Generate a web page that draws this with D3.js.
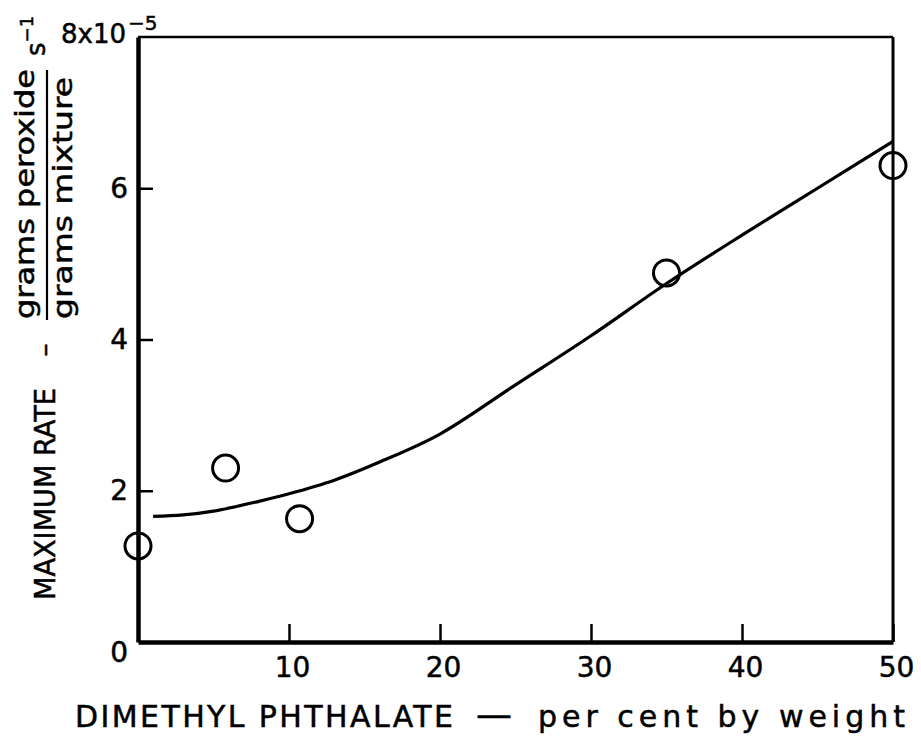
<!DOCTYPE html>
<html>
<head>
<meta charset="utf-8">
<script src="https://cdn.jsdelivr.net/npm/d3@7.9.0/dist/d3.min.js"></script>
<style>
  body { margin: 0; background: #fff; }
  svg { display: block; }
  text { font-family: "DejaVu Sans", sans-serif; fill: #000; stroke: #000; stroke-width: 0.5px; }
</style>
</head>
<body>
<svg id="chart" width="921" height="736"></svg>
<script>
// measured points (per cent DMP, max rate x1e-5)
const pointPct = [0, 5.8, 10.7, 35, 50];
const pointRate = [1.27, 2.3, 1.63, 4.88, 6.3];
// fitted curve
const curvePct = [1, 3, 5, 8, 10, 13, 16, 20, 25, 30, 35, 40, 45, 50];
const curveRate = [1.66, 1.68, 1.73, 1.86, 1.96, 2.14, 2.38, 2.75, 3.4, 4.05, 4.74, 5.38, 6.0, 6.62];
const xTicks = [10, 20, 30, 40, 50];
const yTicks = [0, 2, 4, 6];

const svg = d3.select('#chart');
const x = d3.scaleLinear().domain([0, 50]).range([138, 893]);
const y = d3.scaleLinear().domain([0, 8]).range([642, 37]);

// frame: thin top and right
svg.append('line').attr('x1', x(0)).attr('x2', x(50)).attr('y1', y(8)).attr('y2', y(8))
  .attr('stroke', '#000').attr('stroke-width', 2.5);
svg.append('line').attr('x1', x(50)).attr('x2', x(50)).attr('y1', y(8)).attr('y2', y(0))
  .attr('stroke', '#000').attr('stroke-width', 3);

// bottom axis, ticks pointing in
let gx = svg.append('g').attr('transform', `translate(0,${y(0)})`)
  .call(d3.axisBottom(x).tickValues(xTicks).tickSizeInner(-18).tickSizeOuter(0).tickPadding(13));
gx.select('.domain').attr('stroke-width', 4.5);
gx.selectAll('.tick line').attr('stroke-width', 2.5);
gx.selectAll('.tick text').attr('font-size', 28).attr('dy', '0.8em').attr('dx', 3)
  .style('font-family', '"DejaVu Sans", sans-serif');

// left axis
let gy = svg.append('g').attr('transform', `translate(${x(0)},0)`)
  .call(d3.axisLeft(y).tickValues(yTicks).tickSizeInner(-15).tickSizeOuter(0).tickPadding(10));
gy.select('.domain').attr('stroke-width', 4.5);
gy.selectAll('.tick line').attr('stroke-width', 2.5);
gy.selectAll('.tick text').attr('font-size', 28)
  .style('font-family', '"DejaVu Sans", sans-serif');
gy.selectAll('.tick').filter(d => d === 0).select('line').remove();
gy.selectAll('.tick').filter(d => d === 0).select('text').attr('dy', '0.7em');

// top tick label with exponent
let topLabel = svg.append('text').attr('x', 61).attr('y', y(8) + 6).attr('font-size', 26);
topLabel.append('tspan').text('8x10');
topLabel.append('tspan').attr('dx', 2).attr('dy', -13).attr('font-size', 20).text('−5');

// curve
const line = d3.line().x((d, i) => x(curvePct[i])).y(d => y(d)).curve(d3.curveCatmullRom);
svg.append('path').datum(curveRate).attr('d', line)
  .attr('fill', 'none').attr('stroke', '#000').attr('stroke-width', 3.2);

// open circles
svg.selectAll('circle.pt').data(pointRate).join('circle').attr('class', 'pt')
  .attr('cx', (d, i) => x(pointPct[i])).attr('cy', d => y(d)).attr('r', 13)
  .attr('fill', 'none').attr('stroke', '#000').attr('stroke-width', 3);

// x label in three pieces
function flat(x0, len, txt, size) {
  let t = svg.append('text').attr('x', x0).attr('y', 727).attr('font-size', size).text(txt);
  if (len) t.attr('textLength', len).attr('lengthAdjust', 'spacing');
  return t;
}
flat(75, 378, 'DIMETHYL PHTHALATE', 30);
flat(476, null, '—', 36);
flat(538, 367, 'per cent by weight', 30);

// y label pieces (rotated)
function rot(cx, cy, size, txt, len) {
  let t = svg.append('text').attr('transform', `translate(${cx},${cy}) rotate(-90)`)
    .attr('text-anchor', 'middle').attr('font-size', size).text(txt);
  if (len) t.attr('textLength', len).attr('lengthAdjust', 'spacingAndGlyphs');
  return t;
}
rot(55, 494, 28, 'MAXIMUM RATE', 212);
rot(53, 350, 26, '–');
rot(34, 194, 26, 'grams peroxide', 250);
rot(72, 198, 26, 'grams mixture', 242);
svg.append('line').attr('x1', 47).attr('x2', 47).attr('y1', 70).attr('y2', 320)
  .attr('stroke', '#000').attr('stroke-width', 2.2);
let sUnit = svg.append('text').attr('transform', 'translate(45,56) rotate(-90)')
  .attr('font-size', 26);
sUnit.append('tspan').text('s');
sUnit.append('tspan').attr('dy', -12).attr('font-size', 18).text('−1');
</script>
</body>
</html>
